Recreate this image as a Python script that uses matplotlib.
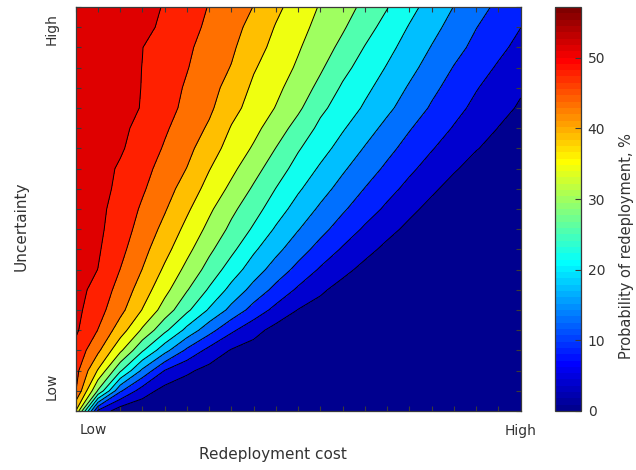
import numpy as np
import matplotlib
matplotlib.use("Agg")
import matplotlib.pyplot as plt
from matplotlib import cm, colors as mcolors

# Grid indices (0 = Low, 20 = High)
cost_idx = list(range(21))
uncert_idx = list(range(21))

# Probability of redeployment (%) ; one row per uncertainty level (Low -> High),
# columns follow redeployment cost (Low -> High)
prob = [
    [39.7, 8.0, 1.8, 1.0, 0.7, 0.5, 0.4, 0.3, 0.25, 0.2, 0.15, 0.12, 0.1, 0.08, 0.06, 0.05, 0.04, 0.03, 0.02, 0.01, 0.0],
    [48.6, 30.4, 13.9, 6.6, 2.8, 1.7, 1.1, 0.8, 0.6, 0.45, 0.35, 0.3, 0.25, 0.2, 0.17, 0.15, 0.13, 0.12, 0.11, 0.1, 0.1],
    [49.9, 39.25, 27.1, 16.7, 8.66, 5.2, 3.0, 1.9, 1.3, 0.95, 0.75, 0.6, 0.5, 0.42, 0.36, 0.3, 0.26, 0.22, 0.19, 0.17, 0.15],
    [51.5, 44.9, 36.1, 26.9, 19.1, 12.3, 7.45, 4.05, 2.6, 1.8, 1.3, 1.0, 0.8, 0.65, 0.55, 0.45, 0.38, 0.32, 0.27, 0.23, 0.2],
    [53.5, 48.3, 41.8, 34.5, 27.45, 20.7, 14.85, 9.6, 5.9, 2.9, 2.0, 1.45, 1.1, 0.85, 0.7, 0.58, 0.48, 0.4, 0.35, 0.32, 0.3],
    [54.0, 50.1, 45.3, 39.4, 33.3, 27.3, 21.5, 16.3, 11.5, 7.5, 4.25, 2.7, 1.9, 1.4, 1.1, 0.9, 0.75, 0.6, 0.5, 0.45, 0.4],
    [54.7, 51.0, 47.0, 41.85, 36.5, 31.1, 25.85, 20.6, 16.1, 11.9, 8.07, 5.13, 2.8, 1.9, 1.4, 1.1, 0.9, 0.75, 0.62, 0.55, 0.5],
    [55.2, 52.75, 48.35, 43.9, 38.9, 34.0, 29.2, 24.3, 19.7, 15.7, 11.9, 8.27, 5.6, 3.2, 2.2, 1.6, 1.25, 1.0, 0.8, 0.7, 0.6],
    [55.5, 53.3, 49.6, 45.4, 41.0, 36.4, 31.7, 27.45, 22.7, 18.75, 15.1, 11.6, 8.3, 5.7, 3.35, 2.4, 1.8, 1.4, 1.1, 0.9, 0.75],
    [55.8, 53.7, 50.5, 46.75, 42.8, 38.4, 34.05, 29.8, 25.8, 21.45, 17.8, 14.5, 11.25, 8.17, 5.66, 3.4, 2.5, 1.9, 1.5, 1.2, 1.0],
    [56.0, 53.9, 51.1, 47.8, 44.4, 40.3, 36.0, 31.8, 28.1, 24.1, 20.2, 16.9, 13.8, 10.8, 8.0, 5.4, 3.2, 2.5, 1.9, 1.5, 1.2],
    [56.2, 54.2, 51.9, 48.9, 45.8, 42.1, 38.1, 34.2, 30.2, 26.3, 22.6, 19.2, 16.1, 13.06, 10.2, 7.6, 5.13, 2.9, 2.3, 1.8, 1.5],
    [56.3, 54.4, 52.3, 49.7, 46.95, 43.9, 39.8, 36.25, 32.4, 28.5, 24.8, 21.4, 18.2, 15.25, 12.4, 9.6, 7.2, 4.86, 2.8, 2.3, 1.9],
    [56.4, 54.8, 53.3, 50.8, 48.0, 45.2, 41.6, 37.9, 34.7, 30.7, 26.8, 23.6, 20.4, 17.3, 14.4, 11.65, 9.06, 6.8, 4.62, 3.0, 2.4],
    [56.5, 55.1, 53.65, 51.7, 48.95, 46.3, 43.4, 39.3, 36.4, 33.0, 29.1, 25.4, 22.4, 19.4, 16.4, 13.5, 10.9, 8.5, 6.4, 4.3, 3.0],
    [56.6, 55.3, 54.0, 52.6, 50.0, 47.3, 44.8, 41.0, 37.9, 35.0, 31.6, 27.3, 24.5, 21.4, 18.5, 15.6, 12.7, 10.1, 7.8, 5.7, 3.9],
    [56.7, 55.4, 54.05, 52.7, 50.3, 47.9, 45.5, 42.45, 38.8, 36.2, 33.2, 29.6, 25.8, 23.0, 20.1, 17.15, 14.2, 11.6, 9.05, 6.95, 4.9],
    [56.8, 55.5, 54.1, 52.75, 50.7, 48.6, 46.2, 43.8, 40.0, 37.3, 34.6, 31.4, 27.7, 24.55, 21.7, 18.8, 15.9, 13.0, 10.6, 8.3, 6.3],
    [56.9, 55.55, 54.2, 52.85, 50.95, 49.05, 46.9, 44.7, 41.4, 38.3, 35.6, 32.8, 29.7, 26.2, 23.2, 20.3, 17.4, 14.6, 12.1, 9.8, 7.6],
    [56.95, 55.8, 54.7, 53.6, 52.2, 49.85, 47.6, 45.4, 42.7, 39.3, 36.6, 33.9, 31.3, 28.1, 24.8, 21.7, 18.9, 16.1, 13.3, 11.1, 8.85],
    [57.0, 55.9, 54.85, 53.8, 52.6, 50.4, 48.2, 46.1, 43.9, 40.6, 37.6, 34.85, 32.5, 29.8, 26.6, 23.3, 20.3, 17.5, 14.8, 12.3, 10.0],
]

contour_levels = [0.0, 4.4, 8.8, 13.2, 17.6, 22.0, 26.4, 30.8, 35.2, 39.6, 44.0, 48.4, 52.8, 57.2]
cbar_ticks = [0, 10, 20, 30, 40, 50]
x_ticklabels = ["Low", "High"]
y_ticklabels = ["Low", "High"]

txt_color = "#333333"
edge_color = "#3a3a3a"


def matlab_jet(m=64):
    n = int(np.ceil(m / 4))
    u = np.concatenate([np.arange(1, n + 1) / n, np.ones(n - 1), np.arange(n, 0, -1) / n])
    g = int(np.ceil(n / 2)) - (1 if m % 4 == 1 else 0) + np.arange(1, len(u) + 1)
    r = g + n
    b = g - n
    J = np.zeros((m, 3))
    J[r[r <= m] - 1, 0] = u[r <= m]
    J[g[g <= m] - 1, 1] = u[g <= m]
    J[b[b >= 1] - 1, 2] = u[b >= 1]
    return mcolors.ListedColormap(J)


cmap = matlab_jet(64)

fig = plt.figure(figsize=(6.36, 4.70), dpi=100)
W, H = 636, 470
ax_l, ax_r, ax_t, ax_b = 75.7, 520.7, 7.0, 411.0
ax = fig.add_axes([ax_l / W, 1 - ax_b / H, (ax_r - ax_l) / W, (ax_b - ax_t) / H])

band_norm = mcolors.Normalize(vmin=0.0, vmax=58.3)
band_colors = [cmap(band_norm(l)) for l in contour_levels[:-1]]

X, Y = np.meshgrid(cost_idx, uncert_idx)
Z = np.array(prob)
ax.contourf(X, Y, Z, levels=contour_levels, colors=band_colors)
ax.contour(X, Y, Z, levels=contour_levels[1:-1], colors="black", linewidths=0.7)

ax.set_xlim(cost_idx[0], cost_idx[-1])
ax.set_ylim(uncert_idx[0], uncert_idx[-1])

# small inward ticks at every grid step on all sides
ax.set_xticks(cost_idx, minor=True)
ax.set_yticks(uncert_idx, minor=True)
ax.tick_params(which="minor", direction="in", length=3.3, width=0.8,
               color=edge_color, top=True, right=True, bottom=True, left=True)
# labels
ax.set_xticks([0.78, 20], labels=x_ticklabels)
ax.set_yticks([1.2, 18.9], labels=y_ticklabels)
ax.tick_params(which="major", length=0, labelsize=10, labelcolor=txt_color)
ax.tick_params(axis="x", which="major", pad=9)
ax.tick_params(axis="y", which="major", pad=12)
for lab in ax.get_yticklabels():
    lab.set_rotation(90)
    lab.set_va("center")

for s in ax.spines.values():
    s.set_color(edge_color)
    s.set_linewidth(0.9)

ax.text((272.8 - ax_l) / (ax_r - ax_l), -(455 - ax_b) / (ax_b - ax_t), "Redeployment cost",
        transform=ax.transAxes, ha="center", va="center", fontsize=11, color=txt_color)
ax.text((21.5 - ax_l) / (ax_r - ax_l), (ax_b - 226) / (ax_b - ax_t), "Uncertainty",
        transform=ax.transAxes, ha="center", va="center", rotation=90, fontsize=11, color=txt_color)

# colorbar
cb_l, cb_r = 555.0, 580.7
cax = fig.add_axes([cb_l / W, 1 - ax_b / H, (cb_r - cb_l) / W, (ax_b - ax_t) / H])
sm = cm.ScalarMappable(norm=mcolors.Normalize(vmin=0.0, vmax=57.2), cmap=cmap)
cb = fig.colorbar(sm, cax=cax, ticks=cbar_ticks)
cb.outline.set_edgecolor(edge_color)
cb.outline.set_linewidth(0.9)
cax.tick_params(direction="in", length=4, width=0.8, color=edge_color,
                labelsize=10, labelcolor=txt_color, pad=5)
cax.text((626.7 - cb_l) / (cb_r - cb_l), (ax_b - 246) / (ax_b - ax_t), "Probability of redeployment, %",
         transform=cax.transAxes, ha="center", va="center", rotation=90, fontsize=10.5, color=txt_color)

fig.savefig("out.png", dpi=100)
